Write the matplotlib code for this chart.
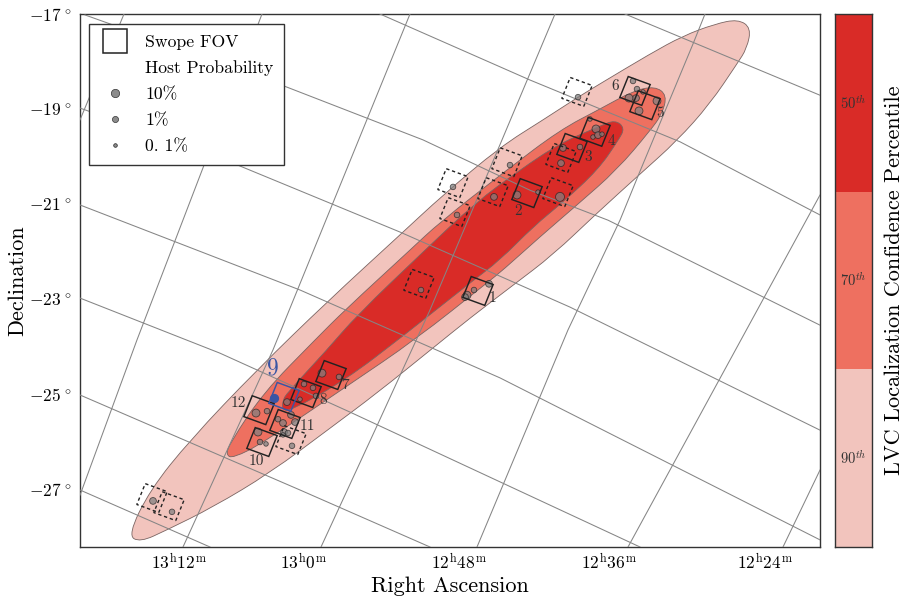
import numpy as np
import matplotlib
matplotlib.use("Agg")
import matplotlib.pyplot as plt
from matplotlib.lines import Line2D
from matplotlib.path import Path
from matplotlib.patches import PathPatch, Polygon

plt.rcParams['font.family'] = ['cmr10', 'DejaVu Serif']
plt.rcParams['mathtext.fontset'] = 'cm'
plt.rcParams['axes.unicode_minus'] = False

# Localization contours, RA / Dec in degrees
outer_ra = [198.62, 198.18, 197.38, 196.04, 194.62, 193.18, 192.32, 191.18, 190.32, 189.62, 189.18, 188.18, 187.52,
            186.88, 186.42, 186.16, 186.24, 186.44, 186.98, 187.64, 188.38, 189.24, 190.12, 190.92, 191.78, 192.52,
            193.64, 194.58, 195.78, 196.92, 197.84, 198.38]
outer_dec = [-27.97, -27.02, -25.97, -24.49, -23.04, -21.65, -20.81, -19.80, -19.23, -18.75, -18.47, -17.84, -17.46,
             -17.21, -17.11, -17.29, -17.72, -18.05, -18.89, -19.67, -20.37, -21.19, -22.07, -22.71, -23.40, -24.03,
             -24.98, -25.72, -26.66, -27.38, -27.86, -28.12]
mid_ra = [196.66, 196.58, 195.92, 194.88, 194.28, 192.98, 192.38, 191.04, 189.98, 189.18, 188.52, 188.08, 187.84,
          187.94, 188.18, 188.84, 189.64, 190.38, 191.12, 191.44, 192.88, 194.18, 195.92, 196.52]
mid_dec = [-26.28, -26.03, -24.98, -23.86, -23.23, -21.97, -21.38, -20.28, -19.44, -19.00, -18.62, -18.52, -18.71,
           -19.11, -19.46, -20.28, -21.02, -21.69, -22.39, -22.66, -23.86, -24.79, -26.03, -26.35]
inner_ra = [195.54, 195.52, 195.44, 194.64, 194.04, 192.68, 191.68, 190.78, 189.98, 189.18, 188.88, 188.68, 188.82,
            189.22, 189.92, 190.52, 191.18, 191.78, 193.12, 194.28, 195.38]
inner_dec = [-25.32, -25.13, -24.98, -24.07, -23.34, -21.97, -20.98, -20.28, -19.72, -19.36, -19.23, -19.40, -19.67,
             -20.28, -20.96, -21.48, -22.18, -22.66, -23.78, -24.71, -25.36]

# Swope fields
field_ra = [191.62, 190.64, 189.74, 189.28, 188.28, 188.48, 194.56, 195.06, 195.94, 195.48, 196.00]
field_dec = [-22.83, -20.77, -19.82, -19.48, -18.92, -18.62, -24.60, -24.98, -26.01, -25.63, -25.34]
blue_field_ra = 195.50
blue_field_dec = -25.06
dashed_ra = [189.64, 189.96, 190.02, 192.12, 191.04, 191.32, 192.08, 192.80, 195.36, 198.14, 197.80]
dashed_dec = [-18.64, -20.03, -20.75, -20.56, -20.12, -20.75, -21.17, -22.68, -25.97, -27.19, -27.36]

# Field numbers
label_text = ['1', '2', '3', '4', '5', '6', '7', '8', '10', '11', '12']
label_ra = [191.32, 190.82, 189.42, 188.96, 187.98, 188.88, 194.28, 194.72, 196.06, 195.04, 196.42]
label_dec = [-22.98, -21.15, -20.01, -19.67, -19.08, -18.52, -24.81, -25.13, -26.41, -25.67, -25.19]

# Host galaxies
host_ra = [189.62, 189.38, 189.26, 189.32, 189.22, 189.14, 189.92, 189.58, 189.96, 189.98, 190.42, 188.52, 188.44,
           188.32, 188.46, 188.60, 188.04, 188.40, 192.12, 190.98, 191.30, 192.04, 190.84, 192.76, 191.70, 191.40,
           191.84, 191.88, 194.74, 194.40, 195.10, 194.92, 194.86, 195.18, 195.44, 196.06, 195.84, 195.62, 195.52,
           195.36, 195.28, 195.50, 195.42, 195.52, 195.34, 196.02, 195.98, 195.86, 198.12, 197.74]
host_dec = [-18.75, -19.21, -19.42, -19.59, -19.55, -19.53, -19.82, -19.80, -20.14, -20.85, -20.75, -18.41, -18.58,
            -18.64, -18.77, -18.77, -18.83, -19.04, -20.64, -20.18, -20.85, -21.23, -20.81, -22.81, -22.81, -22.68,
            -22.92, -22.96, -24.56, -24.64, -24.79, -24.87, -25.04, -25.11, -25.17, -25.40, -25.36, -25.53, -25.61,
            -25.44, -25.59, -25.80, -25.82, -25.86, -26.09, -25.80, -26.01, -26.05, -27.25, -27.48]
host_prob = [0.5, 0.15, 4.5, 0.15, 1.7, 0.15, 1.7, 0.5, 1.7, 10, 0.15, 0.5, 0.5,
             0.15, 1.7, 4.5, 4.5, 4.5, 0.5, 0.5, 1.7, 0.5, 4.5, 0.5, 0.5, 1.7,
             4.5, 1.7, 4.5, 0.5, 0.5, 0.5, 0.5, 0.15, 1.7, 4.5, 0.5, 0.5, 1.7,
             1.7, 1.7, 1.7, 0.5, 0.15, 0.5, 4.5, 0.5, 0.15, 1.7, 0.5]
blue_host_ra = 195.70
blue_host_dec = -25.08
blue_host_prob = 4.5

# Graticule
parallels = [
    ([188.68, 184.78], [-17.00, -18.71]),
    ([193.58, 190.58, 187.58, 184.78], [-17.00, -18.39, -19.69, -21.23]),
    ([199.48, 195.44, 192.72, 190.58, 189.02, 184.78], [-17.02, -18.54, -19.65, -20.71, -21.34, -23.55]),
    ([199.58, 196.68, 193.18, 189.78, 184.78], [-18.98, -20.07, -21.59, -23.17, -25.76]),
    ([199.58, 195.18, 191.18, 184.78], [-21.02, -22.81, -24.66, -28.07]),
    ([199.58, 196.78, 194.18, 188.38], [-22.98, -24.14, -25.38, -28.22]),
    ([199.58, 195.18, 192.58], [-25.02, -27.02, -28.22]),
    ([199.58, 196.98], [-27.02, -28.22]),
]
meridians = [
    ([198.70, 199.58], [-17.00, -19.23]),
    ([195.94, 198.44, 199.58], [-17.00, -23.86, -27.13]),
    ([192.98, 195.72, 197.52], [-17.00, -24.07, -28.22]),
    ([190.08, 191.14, 192.58, 193.68, 194.76], [-17.00, -19.65, -23.23, -25.76, -28.22]),
    ([187.08, 187.32, 188.38, 188.78, 189.82, 191.64], [-17.00, -17.63, -20.31, -21.34, -23.65, -28.22]),
    ([184.78, 188.62], [-20.81, -28.22]),
    ([184.78, 185.52], [-26.60, -28.22]),
]

# Axis ticks
ra_ticks = [197.60, 195.10, 192.00, 189.00, 185.88]
ra_labels = [r'$13^{\mathrm{h}}12^{\mathrm{m}}$', r'$13^{\mathrm{h}}0^{\mathrm{m}}$', r'$12^{\mathrm{h}}48^{\mathrm{m}}$',
             r'$12^{\mathrm{h}}36^{\mathrm{m}}$', r'$12^{\mathrm{h}}24^{\mathrm{m}}$']
dec_ticks = [-17, -19, -21, -23, -25, -27]
dec_labels = [r'${-}%d^{\,\circ}$' % abs(d) for d in dec_ticks]

percentiles = ['90', '70', '50']
RED_90, RED_70, RED_50 = '#f2c4bd', '#ee7060', '#d92b27'
BLUE = '#3a55a4'


def smooth_patch(ra, dec, color):
    # closed quadratic spline with the read points as control points
    pts = np.column_stack([ra, dec])
    mids = (pts + np.roll(pts, -1, axis=0)) / 2
    verts = [mids[-1]]
    codes = [Path.MOVETO]
    for p, m in zip(pts, mids):
        verts += [p, m]
        codes += [Path.CURVE3, Path.CURVE3]
    return PathPatch(Path(verts, codes), facecolor=color, edgecolor='#7a6462', linewidth=0.6, zorder=2)


def field_box(ra, dec, color='#222222', ls='-', lw=1.05, side=0.47, tilt=21):
    t = np.radians(tilt)
    h = side / 2
    corners = []
    for u, v in [(-h, -h), (h, -h), (h, h), (-h, h)]:
        dx = u * np.cos(t) - v * np.sin(t)
        dy = u * np.sin(t) + v * np.cos(t)
        corners.append((ra - dx, dec - dy))
    return Polygon(corners, closed=True, fill=False, edgecolor=color, linestyle=ls, linewidth=lw, zorder=5)


def host_size(prob):
    return (6.2 * np.asarray(prob, dtype=float) ** 0.16 * 0.72) ** 2


fig = plt.figure(figsize=(9.06, 6.04), dpi=100)
ax = fig.add_axes([80 / 906, 1 - 547 / 604, 740 / 906, 533 / 604])
cax = fig.add_axes([835 / 906, 1 - 547 / 604, 37 / 906, 533 / 604])

ax.add_patch(smooth_patch(outer_ra, outer_dec, RED_90))
ax.add_patch(smooth_patch(mid_ra, mid_dec, RED_70))
ax.add_patch(smooth_patch(inner_ra, inner_dec, RED_50))

for ra, dec in parallels + meridians:
    ax.plot(ra, dec, color='#858585', linewidth=0.75, zorder=3)

ax.scatter(host_ra, host_dec, s=host_size(host_prob), color='#7f7f7f', alpha=0.72,
           edgecolor='#222222', linewidth=0.6, zorder=4)
ax.scatter([blue_host_ra], [blue_host_dec], s=host_size(blue_host_prob), color=BLUE, zorder=4)

for ra, dec in zip(field_ra, field_dec):
    ax.add_patch(field_box(ra, dec))
for ra, dec in zip(dashed_ra, dashed_dec):
    ax.add_patch(field_box(ra, dec, ls=(0, (2.4, 2.0)), lw=1.0))
ax.add_patch(field_box(blue_field_ra, blue_field_dec, color=BLUE))

for txt, ra, dec in zip(label_text, label_ra, label_dec):
    ax.text(ra, dec, txt, fontsize=11, color='#333333', ha='center', va='center', zorder=6)
ax.text(195.72, -24.47, '9', fontsize=17, color=BLUE, ha='center', va='center', zorder=6)

ax.set_xlim(199.58, 184.78)
ax.set_ylim(-28.22, -17)
ax.set_xticks(ra_ticks)
ax.set_xticklabels(ra_labels)
ax.set_yticks(dec_ticks)
ax.set_yticklabels(dec_labels)
ax.tick_params(length=0, labelsize=12.5)
ax.tick_params(axis='x', pad=4)
ax.tick_params(axis='y', pad=6)
ax.set_xlabel('Right Ascension', fontsize=16, labelpad=3)
ax.set_ylabel('Declination', fontsize=16, labelpad=1)
for s in ax.spines.values():
    s.set_linewidth(1.0)
    s.set_color('#333333')

handles = [
    Line2D([], [], marker='s', ls='', ms=17, mfc='white', mec='#222222', mew=1.1),
    Line2D([], [], ls='', marker=''),
    Line2D([], [], marker='o', ls='', ms=6.0, mfc='#8c8c8c', mec='#333333', mew=0.5),
    Line2D([], [], marker='o', ls='', ms=4.4, mfc='#8c8c8c', mec='#333333', mew=0.5),
    Line2D([], [], marker='o', ls='', ms=2.6, mfc='#8c8c8c', mec='#222222', mew=0.5),
]
names = ['Swope FOV', 'Host Probability', '10%', '1%', '0. 1%']
leg = ax.legend(handles, names, loc='upper left', bbox_to_anchor=(9 / 740, 523 / 533), borderaxespad=0,
                fontsize=12.7, fancybox=False, framealpha=1, edgecolor='#333333', labelspacing=0.6,
                handlelength=1.7, handletextpad=0.9, borderpad=0.6)
leg.get_frame().set_linewidth(1.0)
leg.set_zorder(10)

# Percentile bar
for i, (p, c) in enumerate(zip(percentiles, [RED_90, RED_70, RED_50])):
    cax.bar(0, 1, bottom=i, width=1, color=c)
    cax.text(0, i + 0.5, r'$%s^{th}$' % p, fontsize=10.5, color='#333333', ha='center', va='center')
cax.set_xlim(-0.5, 0.5)
cax.set_ylim(0, 3)
cax.set_xticks([])
cax.set_yticks([])
cax.yaxis.set_label_position('right')
cax.set_ylabel('LVC Localization Confidence Percentile', fontsize=16, labelpad=9)
for s in cax.spines.values():
    s.set_linewidth(1.0)
    s.set_color('#333333')

fig.savefig('out.png', dpi=100)
